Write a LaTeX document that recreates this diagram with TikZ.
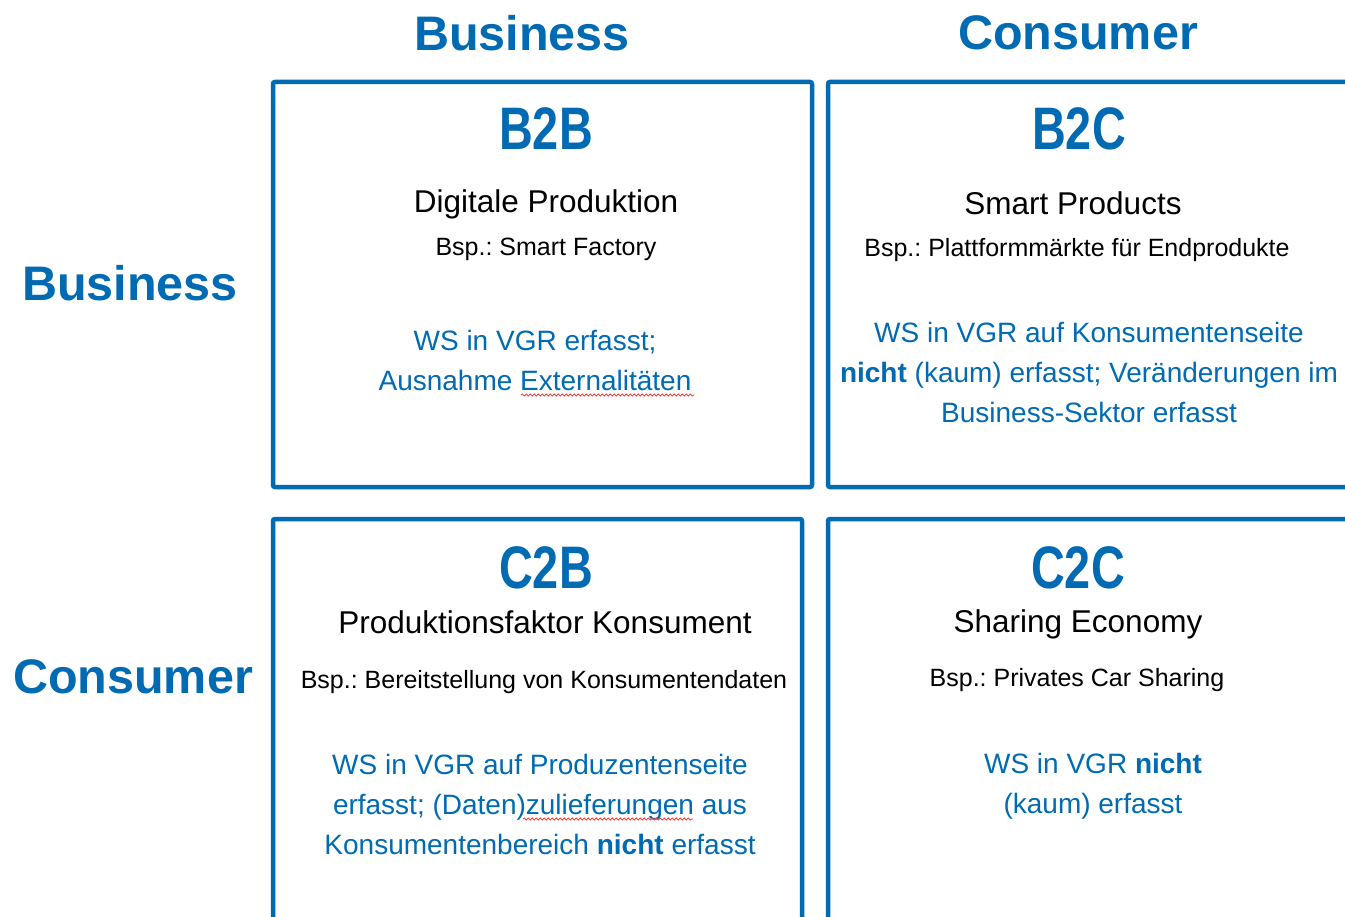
\documentclass[tikz,border=0pt]{standalone}
\usepackage{fontspec}
\setmainfont{Liberation Sans}
\newfontfamily\quadfont[FakeStretch=0.78]{Liberation Sans}
\usetikzlibrary{decorations.pathmorphing}
\definecolor{dblue}{RGB}{0,106,179}
\frenchspacing
\tikzset{
  axislabel/.style={text=dblue, font=\fontsize{48.5}{52}\selectfont\bfseries, inner sep=0},
  quadbox/.style={draw=dblue, line width=4.5pt, rounded corners=2pt},
  quadtitle/.style={text=dblue, font=\quadfont\fontsize{60}{64}\selectfont\bfseries, inner sep=0},
  subtitle/.style={font=\fontsize{31.5}{36}\selectfont, inner sep=0},
  example/.style={font=\fontsize{25}{30}\selectfont, inner sep=0},
  finding/.style={text=dblue, font=\fontsize{28}{40}\selectfont, align=center, inner sep=0},
  typo/.style={draw=red!75, line width=0.8pt, decorate, decoration={snake, amplitude=1.1pt, segment length=4pt}}
}

\begin{document}
\begin{tikzpicture}[x=1pt,y=-1pt]
\useasboundingbox (0,0) rectangle (1345,917);
\clip (0,0) rectangle (1345,917);

% axis labels
\node[axislabel] (colbus) at (522,33) {Business};
\node[axislabel] (colcon) at (1078,33) {Consumer};
\node[axislabel] (rowbus) at (130,283) {Business};
\node[axislabel] (rowcon) at (133,677) {Consumer};

% the four quadrants
\draw[quadbox] (273,82) rectangle (812,487);
\draw[quadbox] (828,82) rectangle (1365,487);
\draw[quadbox] (273,519) rectangle (802,935);
\draw[quadbox] (828,519) rectangle (1365,935);

% B2B
\node[quadtitle] (b2b) at (546,129) {B2B};
\node[subtitle] (b2bsub) at (546,204) {Digitale Produktion};
\node[example] (b2bex) at (546,249) {Bsp.: Smart Factory};
\node[finding] (b2bws) at (535,360) {WS in VGR erfasst;\\Ausnahme Externalitäten};
\draw[typo] (521,395) -- (694,395);

% B2C
\node[quadtitle] (b2c) at (1079,129) {B2C};
\node[subtitle] (b2csub) at (1073,203) {Smart Products};
\node[example] (b2cex) at (1077,250) {Bsp.: Plattformmärkte für Endprodukte};
\node[finding] (b2cws) at (1089,372) {WS in VGR auf Konsumentenseite\\\textbf{nicht} (kaum) erfasst; Veränderungen im\\Business-Sektor erfasst};

% C2B
\node[quadtitle] (c2b) at (546,568) {C2B};
\node[subtitle] (c2bsub) at (545,622) {Produktionsfaktor Konsument};
\node[example] (c2bex) at (544,682) {Bsp.: Bereitstellung von Konsumentendaten};
\node[finding] (c2bws) at (540,804) {WS in VGR auf Produzentenseite\\erfasst; (Daten)zulieferungen aus\\Konsumentenbereich \textbf{nicht} erfasst};
\draw[typo] (523,819) -- (693,819);

% C2C
\node[quadtitle] (c2c) at (1078,568) {C2C};
\node[subtitle] (c2csub) at (1078,624) {Sharing Economy};
\node[example] (c2cex) at (1077,680) {Bsp.: Privates Car Sharing};
\node[finding] (c2cws) at (1093,786) {WS in VGR \textbf{nicht}\\(kaum) erfasst};
\end{tikzpicture}
\end{document}
